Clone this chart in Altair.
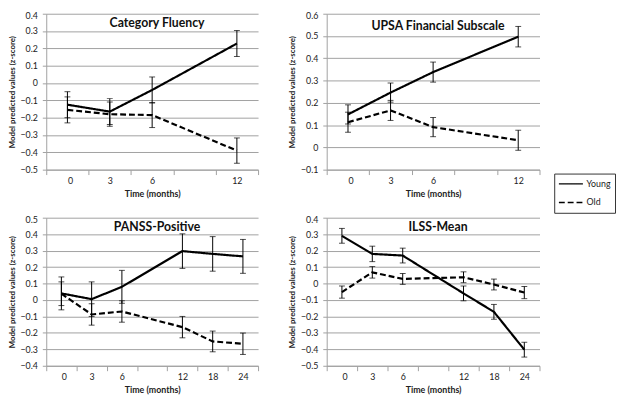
import altair as alt
import pandas as pd

FONT = "Lato"
GRID = "#a0a0a0"

groups = ["Young", "Old"]
cats_short = ["0", "3", "6", "", "12"]
cats_long = ["0", "3", "6", "", "12", "18", "24"]
times_short = ["0", "3", "6", "12"]
times_long = ["0", "3", "6", "12", "18", "24"]

cf_young = [-0.125, -0.165, -0.04, 0.228]
cf_young_err = [0.075, 0.075, 0.075, 0.075]
cf_old = [-0.155, -0.18, -0.185, -0.39]
cf_old_err = [0.075, 0.07, 0.072, 0.073]

upsa_young = [0.148, 0.246, 0.338, 0.497]
upsa_young_err = [0.043, 0.043, 0.045, 0.046]
upsa_old = [0.113, 0.166, 0.091, 0.032]
upsa_old_err = [0.045, 0.045, 0.043, 0.045]

panss_young = [0.04, 0.005, 0.08, 0.297, 0.28, 0.265]
panss_young_err = [0.1, 0.105, 0.1, 0.105, 0.105, 0.103]
panss_old = [0.038, -0.088, -0.07, -0.165, -0.252, -0.266]
panss_old_err = [0.072, 0.065, 0.065, 0.065, 0.063, 0.065]

ilss_young = [0.29, 0.18, 0.17, -0.06, -0.172, -0.402]
ilss_young_err = [0.045, 0.047, 0.045, 0.045, 0.045, 0.045]
ilss_old = [-0.052, 0.068, 0.028, 0.038, -0.006, -0.055]
ilss_old_err = [0.037, 0.035, 0.033, 0.033, 0.033, 0.037]


def panel(title, cats, times, young, yerr, old, oerr, ymin, ymax, w, h, tdy):
    rows = []
    for g, vals, errs in [("Young", young, yerr), ("Old", old, oerr)]:
        for t, v, e in zip(times, vals, errs):
            rows.append({"pos": cats.index(t) + 0.5, "group": g,
                         "value": v, "lo": v - e, "hi": v + e})
    df = pd.DataFrame(rows)
    n = len(cats)
    nt = int(round((ymax - ymin) / 0.1))
    yticks = [round(ymin + 0.1 * i, 1) for i in range(nt + 1)]
    label_arr = "[" + ",".join("'%s'" % c for c in cats + [""]) + "]"

    xaxis = alt.Axis(values=list(range(n + 1)), labelExpr=label_arr + "[datum.value]",
                     labelOffset=w / n / 2, grid=False, title="Time (months)",
                     domainColor=GRID, tickColor=GRID, tickSize=5, labelPadding=2,
                     labelFont=FONT, labelFontSize=9, labelColor="#222",
                     titleFont=FONT, titleFontSize=9, titleFontWeight="bold",
                     titlePadding=4, titleColor="#222")
    yaxis = alt.Axis(values=yticks, labelExpr="abs(datum.value) < 1e-9 ? '0' : format(datum.value, '.1f')",
                     grid=True, gridColor=GRID, domainColor=GRID, tickColor=GRID, tickSize=4,
                     labelPadding=5, labelFont=FONT, labelFontSize=9, labelColor="#222",
                     labelBaseline={"condition": {"test": "datum.value > %f" % (ymax - 0.05), "value": "top"},
                                    "value": "middle"},
                     labelOffset={"condition": {"test": "datum.value > %f" % (ymax - 0.05), "value": -2},
                                  "value": 0},
                     title="Model predicted values (z-score)", titleFont=FONT, titleFontSize=8,
                     titleFontWeight="bold", titlePadding=4, titleColor="#222")
    x = alt.X("pos:Q", scale=alt.Scale(domain=[0, n], nice=False, zero=False), axis=xaxis)
    ys = alt.Scale(domain=[ymin, ymax], nice=False, zero=False)

    base = alt.Chart(df)
    line = base.mark_line(color="black", strokeWidth=2.2).encode(
        x=x,
        y=alt.Y("value:Q", scale=ys, axis=yaxis),
        strokeDash=alt.StrokeDash("group:N", sort=groups,
                                  scale=alt.Scale(domain=groups, range=[[1, 0], [6, 3]]),
                                  legend=alt.Legend(title=None)),
        detail="group:N",
    )
    rule = base.mark_rule(color="black", strokeWidth=1).encode(
        x=x, y=alt.Y("lo:Q", scale=ys, axis=yaxis), y2="hi:Q")
    cap_lo = base.mark_tick(color="black", orient="horizontal", size=6, thickness=1).encode(
        x=x, y=alt.Y("lo:Q", scale=ys, axis=yaxis))
    cap_hi = base.mark_tick(color="black", orient="horizontal", size=6, thickness=1).encode(
        x=x, y=alt.Y("hi:Q", scale=ys, axis=yaxis))
    ttl = alt.Chart(pd.DataFrame({"t": [title]})).mark_text(
        font=FONT, fontSize=12.5, fontWeight="bold", color="#111", baseline="middle", align="center"
    ).encode(text="t:N", x=alt.value(w / 2 + 5), y=alt.value(tdy))
    return alt.layer(line, rule, cap_lo, cap_hi, ttl).properties(width=w, height=h)


p1 = panel("Category Fluency", cats_short, times_short, cf_young, cf_young_err, cf_old, cf_old_err,
           -0.5, 0.4, 216, 159, 10)
p2 = panel("UPSA Financial Subscale", cats_short, times_short, upsa_young, upsa_young_err,
           upsa_old, upsa_old_err, -0.1, 0.6, 217, 159, 12.5)
p3 = panel("PANSS-Positive", cats_long, times_long, panss_young, panss_young_err,
           panss_old, panss_old_err, -0.4, 0.5, 216, 151, 10)
p4 = panel("ILSS-Mean", cats_long, times_long, ilss_young, ilss_young_err,
           ilss_old, ilss_old_err, -0.5, 0.4, 217, 151, 10)

chart = alt.concat(p1, p2, p3, p4, columns=2, spacing={"row": 49, "column": 70},
                   bounds="flush").properties(padding=0).configure_view(stroke=None).configure_legend(
    orient="none", legendX=518, legendY=163, strokeColor="#333", fillColor="white",
    padding=4, labelFont=FONT, labelFontSize=9, labelColor="#222", symbolType="stroke",
    symbolStrokeColor="black", symbolStrokeWidth=1.3, symbolSize=600, rowPadding=6,
    clipHeight=13, labelOffset=3,
)

chart.save("out.html", embed_options={"renderer": "svg", "actions": False})
